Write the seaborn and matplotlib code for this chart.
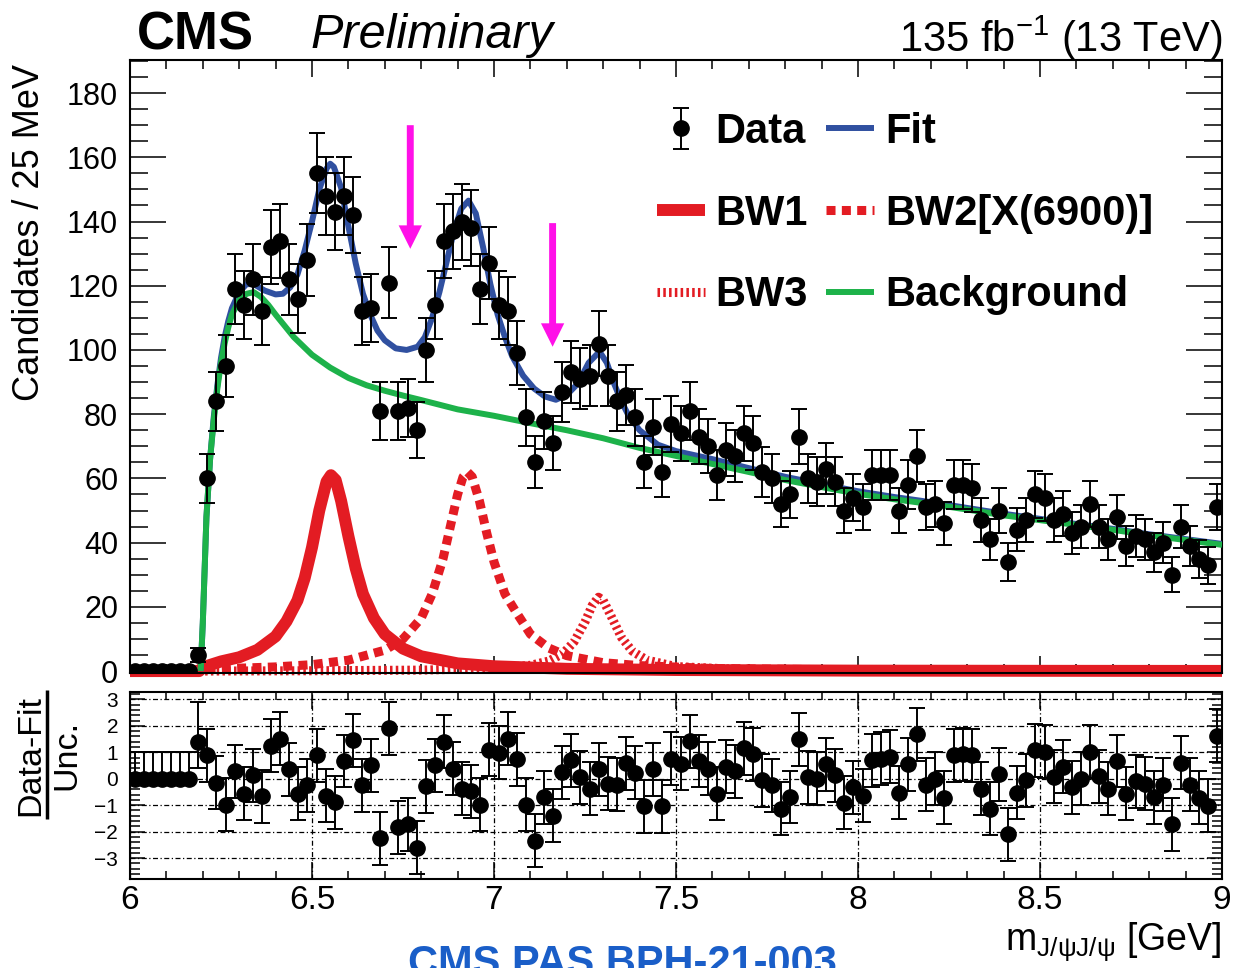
import numpy as np
import matplotlib
matplotlib.use("Agg")
import matplotlib.pyplot as plt
from matplotlib import ticker
from matplotlib.lines import Line2D
import seaborn as sns

# binning: 6.0 - 9.0 GeV, 25 MeV bins
bin_edges = np.linspace(6.0, 9.0, 121)
bin_centers = 0.5 * (bin_edges[:-1] + bin_edges[1:])

# candidates per bin
counts = [0, 0, 0, 0, 0, 0, 0, 5, 60, 84, 95, 119, 114, 122, 112, 132, 134, 122, 116, 128,
          155, 148, 143, 148, 142, 112, 113, 81, 121, 81,
          82, 75, 100, 114, 134, 137, 140, 138, 119, 127,
          114, 112, 99, 79, 65, 78, 71, 87, 93, 91,
          92, 102, 92, 84, 86, 79, 65, 76, 62, 77,
          74, 81, 73, 70, 61, 69, 67, 74, 71, 62,
          60, 52, 55, 73, 60, 59, 63, 59, 50, 54,
          51, 61, 61, 61, 50, 58, 67, 51, 52, 46,
          58, 58, 57, 47, 41, 50, 34, 44, 47, 55,
          54, 47, 49, 43, 45, 52, 45, 41, 48, 39,
          42, 41, 37, 40, 30, 45, 39, 35, 33, 51]

# (Data-Fit)/Unc. per bin
pulls = [0, 0, 0, 0, 0, 0, 0, 1.40, 0.89, -0.15,
         -0.98, 0.28, -0.56, 0.13, -0.66, 1.25, 1.52, 0.36, -0.57, -0.25,
         0.89, -0.64, -0.89, 0.67, 1.46, -0.25, 0.51, -2.25, 1.91, -1.84,
         -1.72, -2.60, -0.28, 0.51, 1.40, 0.38, -0.38, -0.47, -0.98, 1.09,
         0.99, 1.52, 0.74, -0.98, -2.34, -0.70, -1.40, 0.25, 0.70, 0.06,
         -0.38, 0.36, -0.19, -0.22, 0.58, 0.23, -1.04, 0.36, -1.04, 0.76,
         0.57, 1.41, 0.67, 0.38, -0.57, 0.46, 0.29, 1.16, 0.93, -0.06,
         -0.25, -1.14, -0.69, 1.50, 0.06, 0.00, 0.55, 0.14, -0.91, -0.33,
         -0.64, 0.70, 0.76, 0.83, -0.53, 0.55, 1.69, -0.22, 0.00, -0.72,
         0.89, 0.93, 0.89, -0.37, -1.13, 0.17, -2.10, -0.53, -0.05, 1.08,
         1.02, 0.08, 0.46, -0.32, 0.00, 1.03, 0.10, -0.38, 0.67, -0.56,
         -0.09, -0.18, -0.70, -0.22, -1.72, 0.61, -0.22, -0.72, -1.02, 1.63]
pull_err_lo = [0.0] * 7 + [1.0] * 113
pull_err_hi = [1.0] * 7 + [1.5] + [1.0] * 112

# fit curves (sampled off the plot)
fit_x = [6.194, 6.20, 6.21, 6.22, 6.23, 6.24, 6.25, 6.26, 6.27, 6.28,
         6.30, 6.32, 6.34, 6.37, 6.40, 6.42, 6.44, 6.46, 6.48, 6.50,
         6.52, 6.54, 6.55, 6.56, 6.58, 6.60, 6.62, 6.64, 6.66, 6.68,
         6.70, 6.73, 6.76, 6.79, 6.81, 6.83, 6.85, 6.87, 6.89, 6.91,
         6.93, 6.95, 6.97, 6.99, 7.01, 7.03, 7.05, 7.08, 7.11, 7.14,
         7.17, 7.20, 7.23, 7.26, 7.29, 7.31, 7.33, 7.35, 7.37, 7.40,
         7.45, 7.5, 7.6, 7.7, 7.8, 7.9, 8.0, 8.1, 8.2, 8.3,
         8.4, 8.5, 8.6, 8.7, 8.8, 8.9, 9.0]
fit_y = [0, 15, 48, 66, 79, 89, 97.5, 104, 109, 113,
         118, 120.5, 120.5, 118.5, 117.3, 117.5, 119.5, 123.5, 131, 140,
         150, 156.5, 158, 157, 150.5, 138.5, 127, 117.5, 111, 106,
         103, 100.5, 100, 101, 104, 110, 118, 127.5, 137, 144,
         146.5, 142.5, 132, 120.5, 111, 104, 98, 92, 88, 85.5,
         84.5, 86, 89.5, 96, 99.5, 96, 89.5, 84, 79.5, 75,
         70.5, 68.5, 66, 63.2, 60.5, 58.2, 56, 54.2, 52.6, 50.8,
         49, 47.4, 45.8, 44.3, 42.6, 41.1, 39.6]

bg_x = [6.194, 6.20, 6.21, 6.22, 6.23, 6.24, 6.25, 6.26, 6.27, 6.28,
        6.30, 6.32, 6.34, 6.36, 6.38, 6.40, 6.45, 6.50, 6.55, 6.60,
        6.65, 6.70, 6.75, 6.80, 6.90, 7.0, 7.1, 7.2, 7.3, 7.4,
        7.5, 7.6, 7.7, 7.8, 7.9, 8.0, 8.1, 8.2, 8.3, 8.4,
        8.5, 8.6, 8.7, 8.8, 8.9, 9.0]
bg_y = [0, 15, 48, 66, 78, 88, 96, 102, 107, 111,
        115.5, 117.5, 118, 116.5, 114, 111, 104, 98.5, 94.5, 91.3,
        89, 87.3, 85.8, 84.4, 81.5, 79.5, 77.2, 75, 72.5, 69.5,
        67, 64.5, 62, 59.5, 57.3, 55.2, 53.5, 52, 50.3, 48.5,
        47, 45.5, 44, 42.3, 40.8, 39.3]

bw1_x = [6.0, 6.19, 6.20, 6.25, 6.30, 6.35, 6.40, 6.43, 6.46, 6.48,
         6.50, 6.52, 6.54, 6.552, 6.565, 6.58, 6.60, 6.62, 6.64, 6.67,
         6.70, 6.75, 6.80, 6.90, 7.0, 7.2, 7.5, 8.0, 8.5, 9.0]
bw1_y = [0, 0, 1.2, 3.0, 4.3, 6.6, 10.8, 15.5, 22, 29,
         38.5, 50, 59, 61, 59.5, 53, 42, 32, 24, 16.5,
         11.5, 7, 4.6, 2.4, 1.5, 0.7, 0.33, 0.14, 0.08, 0.05]

bw2_x = [6.0, 6.19, 6.20, 6.30, 6.40, 6.50, 6.60, 6.70, 6.75, 6.80,
         6.83, 6.86, 6.88, 6.90, 6.915, 6.927, 6.94, 6.96, 6.98, 7.00,
         7.03, 7.06, 7.10, 7.15, 7.20, 7.30, 7.40, 7.60, 8.0, 8.5, 9.0]
bw2_y = [0, 0, 0.4, 0.9, 1.3, 2.0, 3.4, 6.5, 10, 16.5,
         24, 35, 45, 55, 60.5, 62, 60.5, 53, 43, 34,
         24, 18.5, 11.5, 7.2, 4.8, 2.6, 1.7, 0.8, 0.33, 0.15, 0.09]

bw3_x = [6.0, 6.19, 6.50, 6.80, 7.00, 7.10, 7.15, 7.19, 7.22, 7.25,
         7.27, 7.287, 7.30, 7.32, 7.35, 7.38, 7.42, 7.50, 7.70, 8.0, 9.0]
bw3_y = [0, 0, 0.1, 0.3, 0.8, 1.8, 3.1, 5.5, 9.1, 15.3,
         20.5, 23, 22, 17.5, 10.5, 6.2, 3.4, 1.4, 0.4, 0.15, 0.05]

# magenta arrows marking the dips
arrow_x = [6.77, 7.161]
arrow_top = [170, 139.5]
arrow_tip = [131.5, 101]

RED = "#e31c23"
BLUE = "#3050a0"
GREEN = "#1db24a"
MAGENTA = "#ff10e8"

sns.set_style("ticks")
plt.rcParams["font.family"] = ["Liberation Sans", "DejaVu Sans"]
plt.rcParams["mathtext.fontset"] = "custom"
plt.rcParams["mathtext.rm"] = "Liberation Sans"
plt.rcParams["mathtext.it"] = "Liberation Sans:italic"
plt.rcParams["mathtext.bf"] = "Liberation Sans:bold"
for key in ["text.color", "axes.edgecolor", "axes.labelcolor", "xtick.color", "ytick.color"]:
    plt.rcParams[key] = "black"
plt.rcParams["lines.solid_capstyle"] = "butt"

W, H = 1235, 968
fig = plt.figure(figsize=(W / 100, H / 100), dpi=100)
ax = fig.add_axes([130 / W, 1 - 673 / H, 1092 / W, 613 / H])
ax2 = fig.add_axes([130 / W, 1 - 879 / H, 1092 / W, 187 / H])

# --- main panel ---
sns.lineplot(x=bw1_x, y=bw1_y, ax=ax, color=RED, linewidth=8.6, estimator=None,
             clip_on=False, zorder=2, solid_capstyle="butt")
bw1_line = ax.lines[-1]
sns.lineplot(x=bw2_x, y=bw2_y, ax=ax, color=RED, linewidth=6.5, estimator=None,
             linestyle=(0, (1.0, 0.7)), clip_on=False, zorder=2)
bw2_line = ax.lines[-1]
sns.lineplot(x=bw3_x, y=bw3_y, ax=ax, color=RED, linewidth=6.5, estimator=None,
             linestyle=(0, (0.28, 0.36)), clip_on=False, zorder=2)
bw3_line = ax.lines[-1]
sns.lineplot(x=fit_x, y=fit_y, ax=ax, color=BLUE, linewidth=4.3, estimator=None, zorder=3)
fit_line = ax.lines[-1]
sns.lineplot(x=bg_x, y=bg_y, ax=ax, color=GREEN, linewidth=4.3, estimator=None, zorder=4)
bg_line = ax.lines[-1]

data_h = ax.errorbar(bin_centers, counts, yerr=np.sqrt(counts), fmt="o", color="black",
                     markersize=11, elinewidth=1.4, capsize=5.5, capthick=1.4, zorder=5)

for x0, y0, y1 in zip(arrow_x, arrow_top, arrow_tip):
    ax.arrow(x0, y0, 0, y1 - y0, width=0.019, head_width=0.064, head_length=7.3,
             length_includes_head=True, color=MAGENTA, lw=0, zorder=6)

ax.set_xlim(6, 9)
ax.set_ylim(-0.6, 190.3)
ax.xaxis.set_major_locator(ticker.MultipleLocator(0.5))
ax.xaxis.set_minor_locator(ticker.MultipleLocator(0.1))
ax.yaxis.set_major_locator(ticker.MultipleLocator(20))
ax.yaxis.set_minor_locator(ticker.MultipleLocator(5))
ax.tick_params(which="both", direction="in", top=True, right=True, labelbottom=False, width=1.1)
ax.tick_params(axis="y", which="major", length=26, labelsize=22, pad=8.5)
ax.tick_params(axis="y", which="minor", length=13)
ax.tick_params(axis="x", which="major", length=12)
ax.tick_params(axis="x", which="minor", length=6.5)
ax.set_xlabel("")
ax.set_ylabel("")
for s in ax.spines.values():
    s.set_linewidth(1.5)

handles = [data_h, bw1_line, bw3_line, fit_line, bw2_line, bg_line]
labels = ["Data", "BW1", "BW3", "Fit", "BW2[X(6900)]", "Background"]
ax.legend(handles, labels, ncol=2, loc="upper left",
          bbox_to_anchor=(657 / W, 1 - 112 / H), bbox_transform=fig.transFigure,
          frameon=False, prop={"weight": "bold", "size": 30},
          handlelength=1.15, handletextpad=0.25, columnspacing=0.45,
          labelspacing=1.0, borderpad=0, borderaxespad=0)

# --- ratio panel ---
ax2.errorbar(bin_centers, pulls, yerr=[pull_err_lo, pull_err_hi], fmt="o", color="black",
             markersize=11, elinewidth=1.4, capsize=5.5, capthick=1.4, zorder=5)
ax2.set_xlim(6, 9)
ax2.set_ylim(-3.79, 3.28)
ax2.xaxis.set_major_locator(ticker.MultipleLocator(0.5))
ax2.xaxis.set_minor_locator(ticker.MultipleLocator(0.1))
ax2.xaxis.set_major_formatter(ticker.FormatStrFormatter("%g"))
ax2.yaxis.set_major_locator(ticker.MultipleLocator(1))
ax2.yaxis.set_minor_locator(ticker.MultipleLocator(0.2))
ax2.grid(True, which="major", color="black", linewidth=0.9, linestyle=(0, (4, 2, 1, 2)))
ax2.tick_params(which="both", direction="in", top=True, right=True, width=1.1)
ax2.tick_params(axis="y", which="major", length=11, labelsize=15, pad=8.5)
ax2.tick_params(axis="y", which="minor", length=7)
ax2.tick_params(axis="x", which="major", length=12, labelsize=24, pad=4)
ax2.tick_params(axis="x", which="minor", length=6)
ax2.set_xlabel("")
ax2.set_ylabel("")
for s in ax2.spines.values():
    s.set_linewidth(1.5)

# --- texts ---
fig.text(137 / W, 1 - 50 / H, "CMS", fontsize=38, fontweight="bold", va="baseline")
fig.text(310 / W, 1 - 48 / H, "Preliminary", fontsize=35, style="italic", va="baseline")
fig.text(1222 / W, 1 - 52 / H, r"135 fb$^{-1}$ (13 TeV)", fontsize=30, ha="right", va="baseline")
fig.text(30 / W, 1 - 64 / H, "Candidates / 25 MeV", fontsize=26, rotation=90,
         ha="center", va="top")
fig.text(31 / W, 1 - 755 / H, "Data-Fit", fontsize=24.5, rotation=90, ha="center", va="center")
fig.text(67 / W, 1 - 755 / H, "Unc.", fontsize=24.5, rotation=90, ha="center", va="center")
fig.add_artist(Line2D([47 / W, 47 / W], [1 - 690 / H, 1 - 819 / H], transform=fig.transFigure,
                      color="black", linewidth=2.5))
fig.text(1222 / W, 1 - 950 / H, r"m$_{\mathrm{J/\psi J/\psi}}$ [GeV]", fontsize=27,
         ha="right", va="baseline")
fig.text(622 / W, -0.007, "CMS PAS BPH-21-003", fontsize=30, fontweight="bold",
         color="#1a5ec8", ha="center", va="baseline")

fig.savefig("out.png", dpi=100)
